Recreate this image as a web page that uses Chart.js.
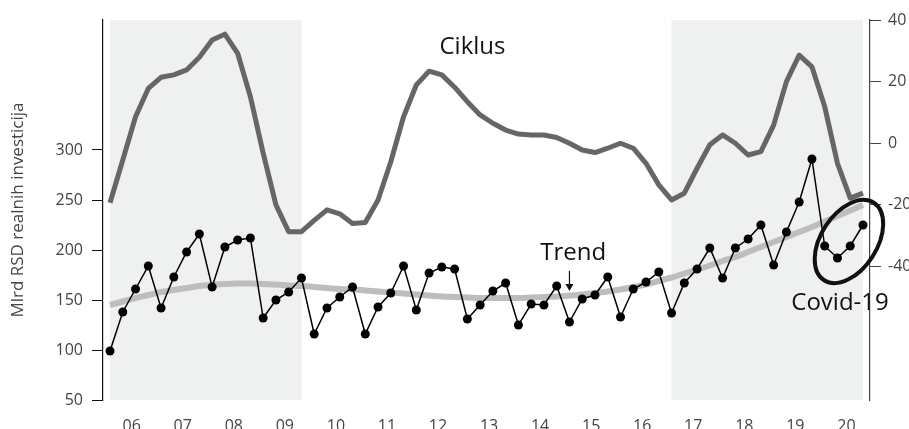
<!DOCTYPE html>
<html>
<head>
<meta charset="utf-8">
<script src="https://cdn.jsdelivr.net/npm/chart.js@4"></script>
<style>
  html, body { margin: 0; padding: 0; background: #fff; }
  #wrap { width: 909px; height: 429px; }
</style>
</head>
<body>
<div id="wrap"><canvas id="invChart"></canvas></div>
<script>
  // godine (oznake na x osi), kvartali 2006Q1 - 2020Q4
  const godine = ['06', '07', '08', '09', '10', '11', '12', '13', '14', '15', '16', '17', '18', '19', '20'];

  // realne investicije, mlrd RSD (leva osa)
  const investicije = [
    99, 138, 161, 184, 142, 173, 198, 216, 163, 203, 210, 212, 132, 150, 158, 172,
    116, 142, 153, 163, 116, 143, 157, 184, 140, 177, 183, 181, 131, 145, 159, 167,
    125, 146, 145, 164, 128, 151, 155, 173, 133, 161, 168, 178, 137, 167, 181, 202,
    172, 202, 211, 225, 185, 218, 248, 291, 204, 192, 204, 225
  ];

  // trend (leva osa)
  const trend = [
    145, 148.5, 152, 155, 158, 160, 162, 164, 165, 166, 166.5, 166.5, 166, 165.5, 164.5, 164,
    163, 162, 161, 160.5, 159.5, 158.5, 157.5, 156.5, 155.5, 154.5, 153.5, 153, 152.5, 152, 152, 152,
    152, 152.5, 153, 153.5, 154.5, 155.5, 157, 158.5, 160.5, 163, 165.5, 169, 172.5, 176.5, 180.5, 184.5,
    189, 193, 198, 203, 208, 213, 218, 223, 228.5, 234, 239.5, 245
  ];

  // ciklus, % odstupanja od trenda (desna osa)
  const ciklus = [
    -19.3, -5.4, 8.6, 17.8, 21.4, 22.2, 23.8, 27.9, 33.5, 35.4, 29.2, 15.1, -3.2, -20, -28.7, -28.7,
    -25, -21.6, -22.9, -26, -25.7, -18.4, -6, 8.6, 18.9, 23.4, 22.2, 18.2, 13.5, 9.2, 6.5, 4.3,
    3.0, 2.7, 2.7, 1.9, 0, -2.2, -3.0, -1.6, 0, -1.6, -6.5, -13.5, -18.4, -16.2, -8.1, -0.5,
    2.7, 0, -3.8, -2.7, 5.9, 20, 28.6, 24.8, 11.9, -6.5, -17.8, -16.2
  ];

  // osenceni periodi (indeksi kvartala)
  const periodi = [[0, 15], [44, 59]];

  const leveOznake = [50, 100, 150, 200, 250, 300];
  const desneOznake = [-40, -20, 0, 20, 40];

  const FONT = "'Open Sans', sans-serif";

  const pts = arr => arr.map((v, i) => ({ x: i, y: v }));

  const dodaci = {
    id: 'dodaci',
    beforeDatasetsDraw(chart) {
      const { ctx, chartArea: a, scales: { x } } = chart;
      ctx.save();
      ctx.fillStyle = '#eff0f0';
      periodi.forEach(([s, e]) => {
        const x0 = x.getPixelForValue(s), x1 = x.getPixelForValue(e);
        ctx.fillRect(x0, a.top, x1 - x0, a.bottom - a.top);
      });
      ctx.restore();
    },
    afterDatasetsDraw(chart) {
      const { ctx, scales: { x, y } } = chart;
      ctx.save();
      ctx.fillStyle = '#111';
      ctx.textAlign = 'center';
      ctx.textBaseline = 'middle';
      ctx.font = '24px ' + FONT;
      ctx.fillText('Ciklus', x.getPixelForValue(28.4), y.getPixelForValue(403));
      ctx.fillText('Trend', x.getPixelForValue(36.3), y.getPixelForValue(197));
      ctx.fillText('Covid-19', x.getPixelForValue(57.2), y.getPixelForValue(147));

      // strelica ka trendu
      const ax = x.getPixelForValue(36), ay0 = y.getPixelForValue(179), ay1 = y.getPixelForValue(159);
      ctx.strokeStyle = '#111';
      ctx.lineWidth = 1.2;
      ctx.beginPath();
      ctx.moveTo(ax, ay0);
      ctx.lineTo(ax, ay1 - 4);
      ctx.stroke();
      ctx.beginPath();
      ctx.moveTo(ax - 4, ay1 - 7);
      ctx.lineTo(ax + 4, ay1 - 7);
      ctx.lineTo(ax, ay1);
      ctx.closePath();
      ctx.fill();

      // elipsa oko Covid-19
      ctx.lineWidth = 4;
      ctx.beginPath();
      ctx.ellipse(x.getPixelForValue(57.9), y.getPixelForValue(208.5), 28, 46, 0.57, 0, Math.PI * 2);
      ctx.stroke();
      ctx.restore();
    }
  };

  new Chart(document.getElementById('invChart'), {
    type: 'line',
    data: {
      datasets: [
        {
          label: 'Investicije',
          data: pts(investicije),
          yAxisID: 'y',
          borderColor: '#000',
          borderWidth: 1.5,
          pointRadius: 4.5,
          pointBackgroundColor: '#000',
          pointBorderWidth: 0,
          tension: 0,
          order: 1
        },
        {
          label: 'Trend',
          data: pts(trend),
          yAxisID: 'y',
          borderColor: '#bdbdbd',
          borderWidth: 6,
          pointRadius: 0,
          tension: 0.4,
          order: 2
        },
        {
          label: 'Ciklus',
          data: pts(ciklus),
          yAxisID: 'y2',
          borderColor: '#666',
          borderWidth: 5,
          pointRadius: 0,
          tension: 0,
          borderJoinStyle: 'round',
          order: 3
        }
      ]
    },
    options: {
      responsive: true,
      maintainAspectRatio: false,
      animation: false,
      layout: { padding: { top: 20, left: 0, right: 0, bottom: 0 } },
      plugins: {
        legend: { display: false },
        tooltip: { enabled: false }
      },
      scales: {
        x: {
          type: 'linear',
          min: -0.55,
          max: 59.55,
          afterBuildTicks: s => { s.ticks = godine.map((g, i) => ({ value: i * 4 + 1.7 })); },
          afterFit: s => { s.height = 29; },
          ticks: {
            autoSkip: false,
            maxRotation: 0,
            padding: 9,
            color: '#444',
            font: { family: FONT, size: 16 },
            callback: (v, i) => godine[i]
          },
          grid: { display: false },
          border: { display: false }
        },
        y: {
          position: 'left',
          min: 50,
          max: 430,
          afterBuildTicks: s => { s.ticks = leveOznake.map(v => ({ value: v })); },
          afterFit: s => { s.width = 103; },
          title: {
            display: true,
            text: 'Mlrd RSD realnih investicija',
            color: '#444',
            font: { family: FONT, size: 17 },
            padding: { top: 8, bottom: 0 }
          },
          ticks: {
            padding: 9,
            color: '#444',
            font: { family: FONT, size: 16 }
          },
          grid: { drawOnChartArea: false, tickLength: 11, color: '#111', tickWidth: 1 },
          border: { display: true, color: '#111', width: 1.2 }
        },
        y2: {
          position: 'right',
          min: -83.3,
          max: 40,
          afterBuildTicks: s => { s.ticks = desneOznake.map(v => ({ value: v })); },
          afterFit: s => { s.width = 39; },
          ticks: {
            padding: 7,
            color: '#444',
            font: { family: FONT, size: 16 }
          },
          grid: { drawOnChartArea: false, tickLength: 11, color: '#444', tickWidth: 1 },
          border: { display: true, color: '#444', width: 1.2 }
        }
      }
    },
    plugins: [dodaci]
  });
</script>
</body>
</html>
